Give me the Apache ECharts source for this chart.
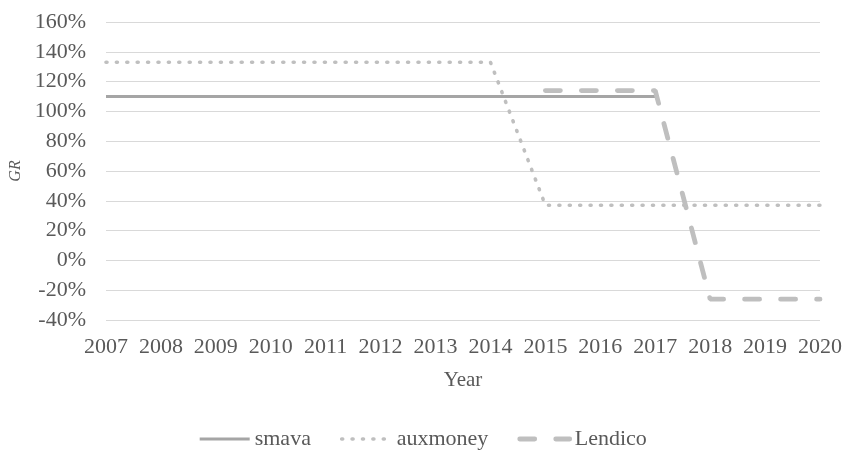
<!DOCTYPE html>
<html>
<head>
<meta charset="utf-8">
<script src="https://cdn.jsdelivr.net/npm/echarts@6/dist/echarts.min.js"></script>
<style>html,body{margin:0;padding:0;background:#fff}#c{width:845px;height:450px}</style>
</head>
<body>
<div id="c"></div>
<script>
var years = ['2007','2008','2009','2010','2011','2012','2013','2014','2015','2016','2017','2018','2019','2020'];
var smava = [110,110,110,110,110,110,110,110,110,110,110,null,null,null];
var auxmoney = [133,133,133,133,133,133,133,133,37,37,37,37,37,37];
var lendico = [null,null,null,null,null,null,null,null,114,114,114,-26,-26,-26];

var font = 'Liberation Serif, Times New Roman, serif';
var txt = '#595959';
var styles = {
  smava: {color: '#a5a5a5', width: 3, type: 'solid'},
  auxmoney: {color: '#bfbfbf', width: 3.6, type: [1, 9.4], cap: 'round'},
  Lendico: {color: '#bfbfbf', width: 4.8, type: [15, 21], cap: 'round'}
};
var chart = echarts.init(document.getElementById('c'));
chart.setOption({
  animation: false,
  grid: {left: 106, right: 25, top: 22, bottom: 130, containLabel: false, outerBoundsMode: 'none'},
  xAxis: {
    type: 'category', data: years, boundaryGap: false,
    name: 'Year', nameLocation: 'middle', nameGap: 50,
    nameTextStyle: {fontFamily: font, fontSize: 21, color: txt},
    axisLine: {show: false}, axisTick: {show: false},
    axisLabel: {fontFamily: font, fontSize: 22, color: txt, margin: 16, interval: 0}
  },
  yAxis: {
    type: 'value', min: -40, max: 160, interval: 20,
    name: 'GR', nameLocation: 'middle', nameGap: 81, nameRotate: 90,
    nameTextStyle: {fontFamily: font, fontSize: 16, color: txt, fontStyle: 'italic'},
    axisLine: {show: false}, axisTick: {show: false},
    axisLabel: {fontFamily: font, fontSize: 22, color: txt, margin: 20, formatter: '{value}%'},
    splitLine: {lineStyle: {color: '#d9d9d9', width: 1}}
  },
  legend: {
    bottom: -5, left: 'center', itemWidth: 50, itemHeight: 10, itemGap: 29,
    textStyle: {fontFamily: font, fontSize: 22, color: txt},
    itemStyle: {opacity: 0},
    data: ['smava','auxmoney','Lendico'].map(function (n) {
      return {name: n, lineStyle: styles[n]};
    })
  },
  series: [
    {name: 'smava', type: 'line', data: smava, symbol: 'none',
     lineStyle: styles.smava, itemStyle: {color: '#a5a5a5'}},
    {name: 'auxmoney', type: 'line', data: auxmoney, symbol: 'none',
     lineStyle: styles.auxmoney, itemStyle: {color: '#bfbfbf'}},
    {name: 'Lendico', type: 'line', data: lendico, symbol: 'none',
     lineStyle: styles.Lendico, itemStyle: {color: '#bfbfbf'}}
  ]
});
</script>
</body>
</html>
